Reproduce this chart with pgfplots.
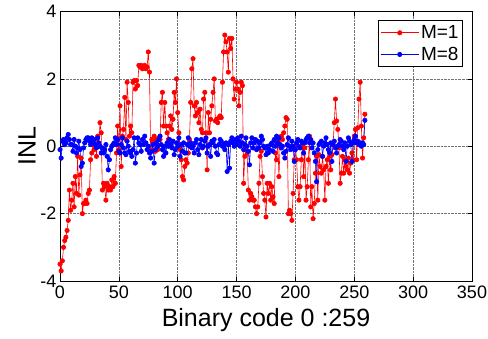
\documentclass[border=0pt]{standalone}
\usepackage{pgfplots}
\pgfplotsset{compat=1.18}
\usepackage{pgfplotstable}
\usepackage{fontspec}
\setmainfont{Liberation Sans}

% M=1 (red), codes 0..259
\pgfplotstableread[row sep=\\]{
y\\
-3.5\\ -3.7\\ -3.4\\ -3.0\\ -2.8\\ -2.7\\ -2.5\\ -2.2\\ -1.3\\ -1.9\\
-1.6\\ -1.1\\ -1.8\\ -0.9\\ -1.4\\ -0.3\\ -1.45\\ -0.85\\ -0.35\\ -2.0\\
-1.7\\ -1.7\\ -1.6\\ -1.7\\ -1.4\\ -1.3\\ -0.4\\ -0.2\\ 0.1\\ -0.1\\
0.2\\ -0.3\\ 0.3\\ 0.0\\ 0.7\\ 0.4\\ -1.3\\ -1.1\\ -1.2\\ -1.6\\
-1.1\\ -1.3\\ -1.2\\ -1.3\\ -1.0\\ -1.2\\ -0.9\\ -1.1\\ -0.2\\ 0.6\\
-0.1\\ 1.2\\ -0.6\\ 0.3\\ 0.5\\ 1.45\\ 0.2\\ 1.9\\ 1.3\\ 0.3\\
0.6\\ 0.4\\ 1.9\\ 1.95\\ 1.7\\ 1.95\\ 1.8\\ 2.4\\ 2.35\\ 2.4\\
2.3\\ 2.35\\ 2.4\\ 2.3\\ 2.35\\ 2.8\\ 2.2\\ -0.1\\ 0.2\\ 0.1\\
0.3\\ -0.15\\ 0.2\\ -0.1\\ 0.25\\ 0.2\\ 1.3\\ 1.6\\ 0.6\\ 1.3\\
0.6\\ 0.4\\ 0.2\\ 0.6\\ 0.9\\ 0.5\\ 0.8\\ 1.6\\ 1.3\\ 2.0\\
1.0\\ 0.4\\ -0.1\\ -0.4\\ -0.9\\ -1.0\\ -0.6\\ -0.4\\ -0.5\\ -0.2\\
0.2\\ 1.3\\ 2.3\\ 2.6\\ 1.2\\ 0.9\\ 1.3\\ 1.0\\ 0.7\\ 1.1\\
0.5\\ 0.4\\ 1.4\\ 1.6\\ 0.4\\ -0.7\\ 1.0\\ 0.4\\ 0.8\\ 1.2\\
1.6\\ 2.0\\ 0.75\\ 0.8\\ 0.7\\ 0.85\\ 0.9\\ 0.85\\ 1.9\\ 2.8\\
3.3\\ 3.1\\ 2.8\\ 2.2\\ 3.2\\ 2.9\\ 3.2\\ 2.0\\ 1.4\\ 1.7\\
1.9\\ 1.7\\ 1.2\\ 1.6\\ 1.9\\ 1.8\\ -1.1\\ -0.3\\ -0.1\\ -0.2\\
-1.3\\ -1.6\\ -1.4\\ -1.5\\ -1.6\\ -1.6\\ -1.8\\ -2.0\\ -1.8\\ -1.1\\
-0.3\\ -0.15\\ -0.9\\ -1.4\\ -1.6\\ -2.1\\ -1.1\\ -1.4\\ -1.1\\ -1.6\\
-1.2\\ -1.5\\ -1.7\\ -0.2\\ -0.4\\ 0.15\\ -0.9\\ 0.0\\ 0.3\\ 0.2\\
0.4\\ 0.6\\ 0.85\\ 0.8\\ -2.0\\ -1.9\\ -2.0\\ -2.2\\ -1.4\\ -0.4\\
0.0\\ -0.4\\ -1.2\\ -1.6\\ -1.2\\ -0.4\\ 0.0\\ -0.9\\ -0.05\\ -1.6\\
-1.2\\ -0.4\\ 0.3\\ -1.8\\ -1.2\\ -2.15\\ -1.7\\ -0.8\\ -0.3\\ -1.6\\
-0.25\\ -0.6\\ -0.8\\ -0.3\\ -0.7\\ -1.6\\ -0.6\\ -0.4\\ -1.1\\ -0.3\\
-0.7\\ -0.25\\ 0.05\\ 0.7\\ 1.4\\ 0.75\\ 0.5\\ -0.05\\ -1.1\\ -0.8\\
-0.3\\ -0.8\\ -0.4\\ -0.6\\ -0.7\\ -0.35\\ -0.8\\ -0.5\\ -0.2\\ -0.4\\
0.3\\ 0.5\\ -0.4\\ 0.55\\ 1.4\\ 1.9\\ 0.6\\ -0.35\\ 0.25\\ 0.95\\
}\redtab

% M=8 (blue), codes 0..259
\pgfplotstableread[row sep=\\]{
y\\
-0.1\\ -0.35\\ 0.15\\ 0.2\\ 0.05\\ 0.1\\ 0.25\\ 0.35\\ 0.2\\ 0.05\\
0.05\\ -0.15\\ 0.2\\ 0.0\\ -0.2\\ -0.05\\ 0.15\\ -0.1\\ -0.6\\ -0.5\\
-0.05\\ 0.1\\ 0.2\\ 0.25\\ 0.25\\ 0.15\\ 0.05\\ 0.25\\ 0.1\\ 0.2\\
0.05\\ -0.05\\ 0.25\\ 0.1\\ 0.0\\ -0.2\\ -0.05\\ -0.2\\ -0.1\\ 0.05\\
-0.3\\ -0.7\\ -0.4\\ -0.1\\ 0.0\\ 0.05\\ 0.1\\ 0.25\\ 0.05\\ 0.2\\
-0.15\\ -0.2\\ 0.05\\ 0.25\\ -0.05\\ -0.2\\ -0.25\\ 0.15\\ 0.0\\ -0.15\\
-0.2\\ -0.3\\ -0.1\\ 0.25\\ -0.5\\ -0.2\\ 0.25\\ 0.1\\ 0.05\\ -0.15\\
0.2\\ 0.05\\ 0.3\\ 0.1\\ -0.1\\ 0.0\\ -0.2\\ -0.35\\ -0.15\\ 0.05\\
-0.5\\ -0.1\\ 0.1\\ 0.0\\ 0.2\\ 0.3\\ 0.05\\ -0.1\\ -0.3\\ 0.0\\
-0.2\\ 0.1\\ 0.0\\ 0.2\\ 0.05\\ -0.05\\ 0.15\\ -0.25\\ -0.1\\ 0.1\\
0.0\\ 0.25\\ -0.3\\ 0.05\\ -0.15\\ 0.1\\ -0.2\\ -0.2\\ 0.05\\ 0.25\\
0.0\\ 0.1\\ -0.05\\ 0.0\\ -0.2\\ 0.1\\ 0.2\\ -0.1\\ -0.25\\ 0.05\\
0.2\\ -0.05\\ 0.0\\ 0.15\\ 0.25\\ -0.2\\ 0.0\\ 0.05\\ -0.3\\ 0.15\\
0.1\\ 0.2\\ 0.0\\ -0.2\\ -0.25\\ 0.05\\ 0.2\\ 0.15\\ 0.0\\ 0.05\\
-0.1\\ 0.1\\ -0.75\\ 0.05\\ -0.65\\ 0.15\\ 0.25\\ 0.1\\ 0.0\\ 0.2\\
0.05\\ 0.25\\ 0.15\\ 0.0\\ 0.3\\ 0.1\\ -0.1\\ 0.05\\ 0.25\\ 0.0\\
-0.15\\ -0.55\\ 0.1\\ 0.25\\ -0.05\\ 0.1\\ 0.2\\ -0.1\\ 0.15\\ -0.05\\
0.1\\ 0.3\\ 0.2\\ 0.0\\ -0.05\\ -0.25\\ 0.0\\ -0.2\\ -0.1\\ 0.05\\
0.1\\ -0.15\\ 0.2\\ 0.0\\ 0.3\\ 0.1\\ 0.25\\ 0.05\\ -0.05\\ 0.0\\
-0.2\\ -0.35\\ -0.15\\ 0.05\\ 0.25\\ 0.0\\ -0.1\\ 0.15\\ 0.0\\ -0.45\\
-0.1\\ 0.1\\ 0.2\\ 0.0\\ -0.05\\ 0.15\\ 0.1\\ -0.2\\ 0.1\\ 0.2\\
0.25\\ 0.3\\ 0.1\\ 0.2\\ -0.05\\ 0.1\\ -0.2\\ -0.45\\ -1.05\\ -0.1\\
0.05\\ 0.1\\ 0.15\\ -0.3\\ 0.0\\ 0.1\\ 0.25\\ 0.05\\ -0.1\\ -0.2\\
0.1\\ -0.45\\ 0.05\\ 0.15\\ -0.05\\ -0.2\\ 0.0\\ 0.05\\ 0.2\\ 0.15\\
0.0\\ -0.1\\ 0.1\\ -0.45\\ 0.0\\ 0.25\\ 0.15\\ 0.05\\ -0.45\\ 0.1\\
0.2\\ 0.3\\ 0.1\\ 0.15\\ 0.05\\ 0.1\\ 0.0\\ 0.1\\ 0.05\\ 0.77\\
}\bluetab

\begin{document}
\begin{tikzpicture}
\path[use as bounding box] (-60bp,-58bp) rectangle (428bp,281bp);
\begin{axis}[
  scale only axis,
  width=412bp, height=269.5bp,
  xmin=0, xmax=350, ymin=-4, ymax=4,
  xtick={0,50,...,350}, ytick={-4,-2,0,2,4},
  xtick pos=both, ytick pos=both,
  tick align=inside,
  major tick length=4bp,
  grid=major,
  grid style={densely dotted, black!55, line width=0.5bp},
  axis line style={line width=0.8bp},
  every tick/.style={black, line width=0.5bp},
  /pgf/number format/assume math mode=true,
  tick label style={font=\fontsize{18bp}{18bp}\selectfont},
  xticklabel style={yshift=-1bp},
  xlabel={Binary code 0 :259},
  ylabel={INL},
  label style={font=\fontsize{25bp}{25bp}\selectfont},
  xlabel style={yshift=-3bp},
  ylabel style={yshift=-2bp},
  legend style={at={(0.978,0.968)}, anchor=north east,
    font=\fontsize{19bp}{19bp}\selectfont, draw=black, line width=0.8bp,
    inner xsep=2bp, inner ysep=3bp, row sep=3bp},
  legend cell align=left,
  legend image code/.code={%
    \draw[mark repeat=2,mark phase=2,#1] plot coordinates {(0bp,0bp) (19bp,0bp) (38bp,0bp)};},
]
\addplot[red, line width=0.6bp, mark=*, mark size=2.2bp, mark options={solid, fill=red, draw=red}]
  table[x expr=\coordindex, y=y] {\redtab};
\addlegendentry{M=1}
\addplot[blue, line width=0.6bp, mark=*, mark size=2.2bp, mark options={solid, fill=blue, draw=blue}]
  table[x expr=\coordindex, y=y] {\bluetab};
\addlegendentry{M=8}
\end{axis}
\end{tikzpicture}
\end{document}
